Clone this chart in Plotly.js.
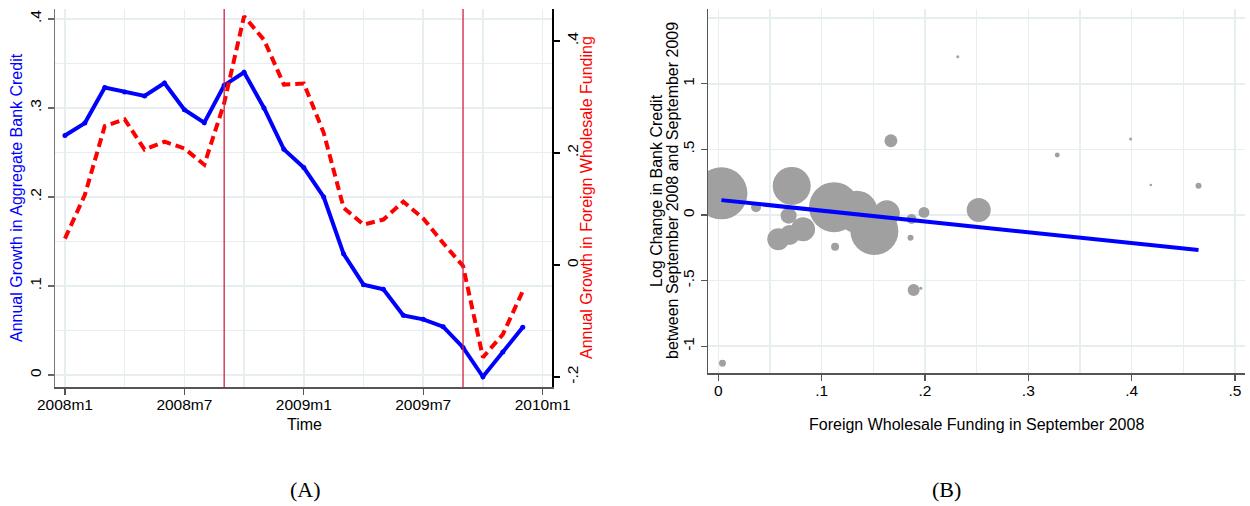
<!DOCTYPE html>
<html>
<head>
<meta charset="utf-8">
<script src="https://cdn.plot.ly/plotly-3.0.1.min.js"></script>
<style>
html,body{margin:0;padding:0;background:#fff;}
#chart{width:1250px;height:506px;}
</style>
</head>
<body>
<div id="chart"></div>
<script>
// ---------- Panel A data ----------
const months = ['2008m1','2008m2','2008m3','2008m4','2008m5','2008m6','2008m7','2008m8','2008m9','2008m10','2008m11','2008m12',
                '2009m1','2009m2','2009m3','2009m4','2009m5','2009m6','2009m7','2009m8','2009m9','2009m10','2009m11','2009m12'];
const bankCreditGrowth = [0.269, 0.283, 0.323, 0.318, 0.3135, 0.328, 0.298, 0.2835, 0.3255, 0.340, 0.300, 0.2535,
                          0.233, 0.200, 0.136, 0.1015, 0.0963, 0.067, 0.0625, 0.0543, 0.031, -0.002, 0.0258, 0.0536];
const wholesaleFundingGrowth = [0.047, 0.125, 0.248, 0.260, 0.206, 0.220, 0.208, 0.179, 0.289, 0.444, 0.402, 0.322,
                                0.324, 0.236, 0.102, 0.072, 0.081, 0.113, 0.083, 0.039, -0.002, -0.165, -0.124, -0.047];
const eventMonths = ['2008m9', '2009m9'];
const timeTickMonths = ['2008m1','2008m7','2009m1','2009m7','2010m1'];
const creditTicks = [0, 0.1, 0.2, 0.3, 0.4];
const creditTickText = ['0', '.1', '.2', '.3', '.4'];
const fundingTicks = [-0.2, 0, 0.2, 0.4];
const fundingTickText = ['-.2', '0', '.2', '.4'];

// ---------- Panel B data ----------
const fundingShare  = [0.003, 0.0365, 0.071, 0.068, 0.058, 0.069, 0.082, 0.112, 0.134, 0.151, 0.163, 0.187, 0.199,
                       0.186, 0.113, 0.189, 0.196, 0.004, 0.167, 0.2317, 0.328, 0.399, 0.4186, 0.4647, 0.252];
const creditChange  = [0.165, 0.059, 0.222, -0.005, -0.185, -0.152, -0.109, 0.060, 0.025, -0.122, 0.013, -0.030, 0.020,
                       -0.173, -0.241, -0.572, -0.559, -1.130, 0.566, 1.207, 0.457, 0.579, 0.229, 0.223, 0.038];
const bankWeight    = [676, 25, 361, 64, 121, 100, 144, 625, 441, 576, 169, 25, 30,
                       9, 16, 36, 2.25, 12, 42, 2.25, 6, 2.25, 1.7, 9, 144];
const fitIntercept = 0.116;
const fitSlope = -0.825;
const shareTicks = [0, 0.1, 0.2, 0.3, 0.4, 0.5];
const shareTickText = ['0', '.1', '.2', '.3', '.4', '.5'];
const changeTicks = [-1, -0.5, 0, 0.5, 1];
const changeTickText = ['-1', '-.5', '0', '.5', '1'];
const changeExtraGrid = [1.5];

// ---------- helpers ----------
const W = 1250, H = 506;
const px = v => v / W;
const py = v => 1 - v / H;
const FONT = 'Liberation Sans, Arial, sans-serif';
const SERIF = 'Liberation Serif, Times New Roman, serif';
const GRID = '#e6eef0';
const tickFont = {family: FONT, size: 15.5, color: '#000'};
const alias = (vals, txt) => { const o = {}; vals.forEach((v, i) => { o[String(v)] = txt[i]; }); return o; };

const monthIdx = months.map((m, i) => i);
const monthPos = m => { const y = parseInt(m.slice(0, 4)), mo = parseInt(m.slice(5)); return (y - 2008) * 12 + (mo - 1); };
const timeTickVals = timeTickMonths.map(monthPos);

const xFitMin = Math.min(...fundingShare), xFitMax = Math.max(...fundingShare);
const fitX = [xFitMin, xFitMax];
const fitY = fitX.map(x => fitIntercept + fitSlope * x);

const traces = [
  {x: monthIdx, y: bankCreditGrowth, type: 'scatter', mode: 'lines+markers', xaxis: 'x', yaxis: 'y',
   line: {color: '#0000ff', width: 4}, marker: {color: '#0000ff', size: 5}},
  {x: monthIdx, y: wholesaleFundingGrowth, type: 'scatter', mode: 'lines', xaxis: 'x', yaxis: 'y2',
   line: {color: '#ff0000', width: 4, dash: '9px,5px'}},
  {x: fundingShare, y: creditChange, type: 'scatter', mode: 'markers', xaxis: 'x2', yaxis: 'y3',
   marker: {color: '#a0a0a0', size: bankWeight, sizemode: 'area', sizeref: 0.5, line: {width: 0}, opacity: 1}},
  {x: fitX, y: fitY, type: 'scatter', mode: 'lines', xaxis: 'x2', yaxis: 'y3',
   line: {color: '#0000ff', width: 4}}
];

const shapes = eventMonths.map(m => ({
  type: 'line', xref: 'x', yref: 'y domain', x0: monthPos(m), x1: monthPos(m), y0: 0, y1: 1,
  line: {color: '#d0213f', width: 1.3}, layer: 'above'
}));

const ann = (text, x, y, opts) => Object.assign({
  text: text, xref: 'paper', yref: 'paper', x: px(x), y: py(y), showarrow: false,
  xanchor: 'center', yanchor: 'middle', font: {family: FONT, size: 16, color: '#000'}
}, opts || {});

const layout = {
  width: W, height: H, margin: {l: 0, r: 0, t: 0, b: 0, pad: 0},
  paper_bgcolor: '#fff', plot_bgcolor: '#fff', showlegend: false,
  xaxis: {domain: [px(55), px(552)], range: [-0.5, 24.47], anchor: 'y',
    tickmode: 'linear', tick0: 0, dtick: 6, labelalias: alias(timeTickVals, timeTickMonths),
    ticks: 'outside', ticklen: 6, tickwidth: 1.3, tickcolor: '#555', tickfont: tickFont, ticklabelstandoff: -3,
    showline: true, linecolor: '#555', linewidth: 1.5, mirror: false,
    showgrid: true, gridcolor: GRID, gridwidth: 1.5, zeroline: false,
    minor: {tick0: 0, dtick: 3, showgrid: true, gridcolor: GRID, gridwidth: 1.5, ticks: ''}},
  yaxis: {domain: [py(387), py(9)], range: [-0.0135, 0.4112], anchor: 'x',
    tickmode: 'linear', tick0: 0, dtick: 0.1, labelalias: alias(creditTicks, creditTickText),
    tickangle: -90, ticks: 'outside', ticklen: 6, tickwidth: 1.3, tickcolor: '#666', tickfont: tickFont,
    showline: true, linecolor: '#777', linewidth: 1.5,
    showgrid: true, gridcolor: GRID, gridwidth: 1.5, zeroline: false,
    minor: {tick0: 0, dtick: 0.05, showgrid: true, gridcolor: GRID, gridwidth: 1.5, ticks: ''}},
  yaxis2: {overlaying: 'y', side: 'right', anchor: 'x', range: [-0.218, 0.457],
    tickmode: 'array', tickvals: fundingTicks, ticktext: fundingTickText,
    tickangle: -90, ticks: 'outside', ticklen: 6, tickwidth: 1.3, tickcolor: '#000', tickfont: tickFont,
    showline: true, linecolor: '#000', linewidth: 1.5, showgrid: false, zeroline: false},
  xaxis2: {domain: [px(708), px(1245)], range: [-0.01, 0.5097], anchor: 'y3',
    tickmode: 'linear', tick0: 0, dtick: 0.1, labelalias: alias(shareTicks, shareTickText),
    ticks: 'outside', ticklen: 6, tickwidth: 1.3, tickcolor: '#555', tickfont: tickFont, ticklabelstandoff: -3,
    showline: true, linecolor: '#555', linewidth: 1.5,
    showgrid: true, gridcolor: GRID, gridwidth: 1.5, zeroline: false,
    minor: {tick0: 0, dtick: 0.05, showgrid: true, gridcolor: GRID, gridwidth: 1.5, ticks: ''}},
  yaxis3: {domain: [py(373), py(9)], range: [-1.204, 1.570], anchor: 'x2',
    tickmode: 'array', tickvals: changeTicks, ticktext: changeTickText,
    tickangle: -90, ticks: 'outside', ticklen: 6, tickwidth: 1.3, tickcolor: '#555', tickfont: tickFont,
    showline: true, linecolor: '#555', linewidth: 1.5,
    showgrid: true, gridcolor: GRID, gridwidth: 1.5, zeroline: false,
    minor: {tickmode: 'array', tickvals: changeExtraGrid, showgrid: true, gridcolor: GRID, gridwidth: 1.5, ticks: ''}},
  shapes: shapes,
  annotations: [
    ann('Annual Growth in Aggregate Bank Credit', 17, 198, {textangle: -90, font: {family: FONT, size: 16, color: '#0000ff'}}),
    ann('Annual Growth in Foreign Wholesale Funding', 587, 198, {textangle: -90, font: {family: FONT, size: 16, color: '#ff0000'}}),
    ann('Time', 304, 424),
    ann('Log Change in Bank Credit', 656, 191, {textangle: -90}),
    ann('between September 2008 and September 2009', 672, 191, {textangle: -90}),
    ann('Foreign Wholesale Funding in September 2008', 976, 424),
    ann('(A)', 305, 489, {font: {family: SERIF, size: 22, color: '#000'}}),
    ann('(B)', 946, 489, {font: {family: SERIF, size: 22, color: '#000'}})
  ]
};

Plotly.newPlot('chart', traces, layout, {staticPlot: true, displayModeBar: false});
</script>
</body>
</html>
